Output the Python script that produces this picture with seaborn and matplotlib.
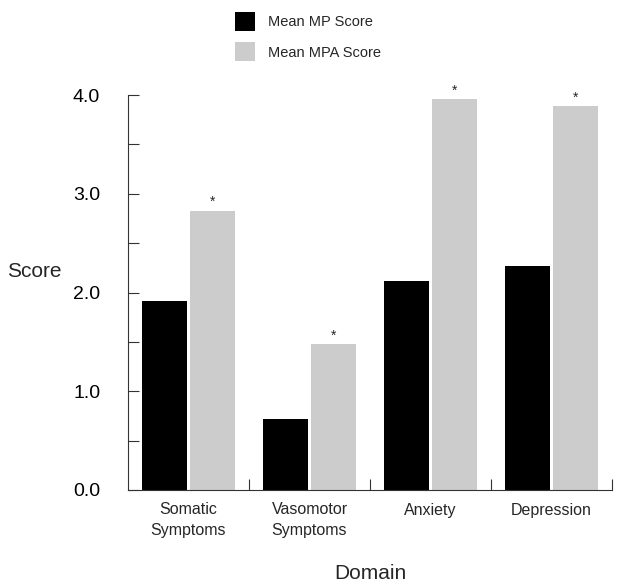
import pandas as pd
import numpy as np
import matplotlib
matplotlib.use('Agg')
import matplotlib.pyplot as plt
import seaborn as sns

# values
domains = ['Somatic\nSymptoms', 'Vasomotor\nSymptoms', 'Anxiety', 'Depression']
mp_scores = [1.91, 0.72, 2.12, 2.27]
mpa_scores = [2.83, 1.48, 3.96, 3.89]
series = ['Mean MP Score', 'Mean MPA Score']
significant = [True, True, True, True]

df = pd.DataFrame({
    'Domain': domains * 2,
    'Score': mp_scores + mpa_scores,
    'Series': [series[0]] * 4 + [series[1]] * 4,
})

sns.set_style('ticks')
plt.rcParams['font.family'] = ['Liberation Sans', 'DejaVu Sans']

fig = plt.figure(figsize=(6.21, 5.87), dpi=100)
ax = fig.add_axes([128 / 621, 97 / 587, 484 / 621, 395 / 587])

sns.barplot(data=df, x='Domain', y='Score', hue='Series', hue_order=series,
            palette=['#000000', '#cccccc'], width=0.78, gap=0.05,
            saturation=1, linewidth=0, ax=ax)

# significance stars above the MPA bars
for i, v in enumerate(mpa_scores):
    if significant[i]:
        ax.annotate('*', (i + 0.195, v), xytext=(0, 1), textcoords='offset points',
                    ha='center', va='bottom', fontsize=10)

ax.set_xlim(-0.5, 3.5)
ax.set_ylim(0, 4.0)
ax.set_yticks([0, 1, 2, 3, 4])
ax.set_yticklabels(['0.0', '1.0', '2.0', '3.0', '4.0'], fontsize=14)
ax.set_yticks(np.arange(0.5, 4, 1.0), minor=True)
ax.tick_params(axis='y', which='both', direction='in', length=8, width=0.8,
               pad=20, colors='#333333', labelcolor='black')
ax.set_xticks([0.5, 1.5, 2.5, 3.5], minor=True)
ax.tick_params(axis='x', which='minor', direction='in', length=8, width=0.8, colors='#333333')
ax.tick_params(axis='x', which='major', length=0, pad=9, labelsize=11.5)
for lbl in ax.get_xticklabels():
    lbl.set_linespacing(1.45)

ax.set_xlabel('Domain', fontsize=15, labelpad=19)
ax.set_ylabel('Score', fontsize=15, rotation=0, ha='left', va='center')
ax.yaxis.set_label_coords(-0.25, 0.552)

for s in ['top', 'right']:
    ax.spines[s].set_visible(False)
for s in ['left', 'bottom']:
    ax.spines[s].set_linewidth(0.8)
    ax.spines[s].set_color('#333333')

handles, labels = ax.get_legend_handles_labels()
ax.legend(handles, labels, loc='upper left', bbox_to_anchor=(235 / 621, 1 - 12 / 587),
          bbox_transform=fig.transFigure, frameon=False, fontsize=10.5,
          handlelength=1.4, handleheight=1.6, handletextpad=0.85,
          labelspacing=0.8, borderpad=0, borderaxespad=0)

fig.savefig('out.png', dpi=100)
